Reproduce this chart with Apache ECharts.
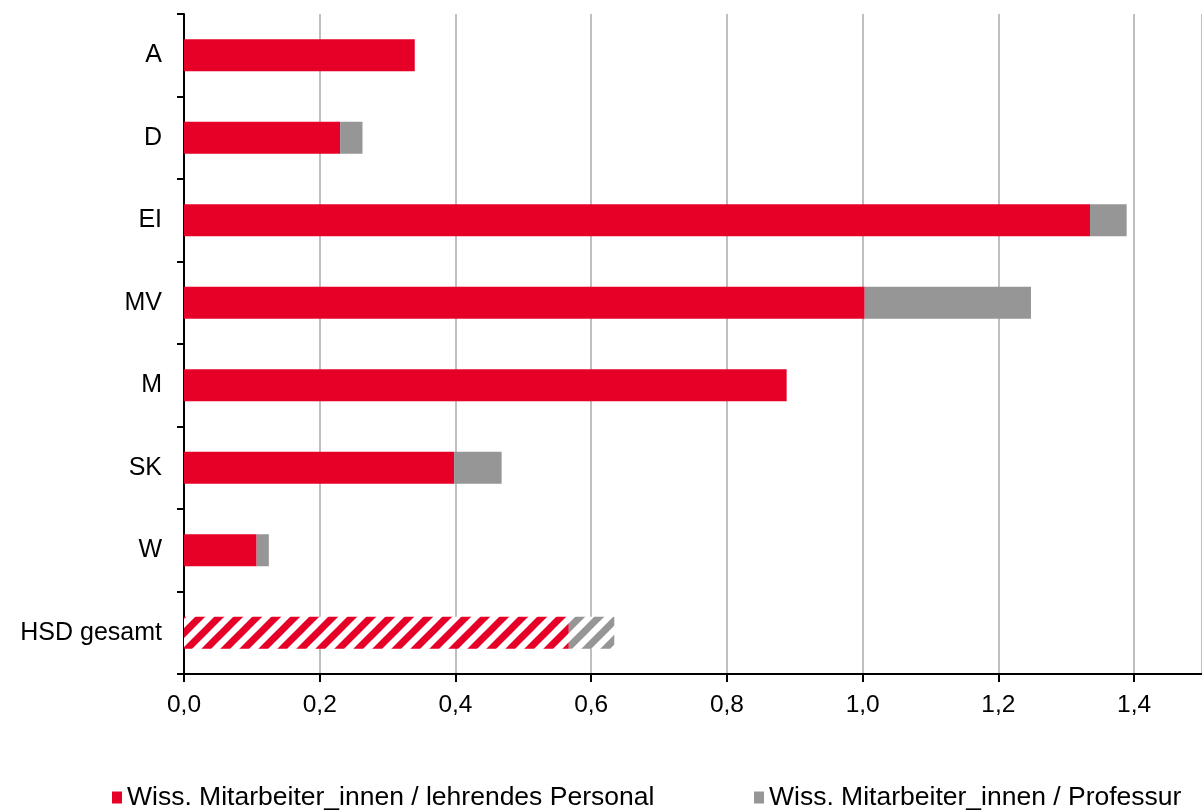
<!DOCTYPE html>
<html>
<head>
<meta charset="utf-8">
<script src="https://cdn.jsdelivr.net/npm/echarts@6/dist/echarts.min.js"></script>
<style>
html,body{margin:0;padding:0;background:#fff;}
#chart{width:1202px;height:810px;}
</style>
</head>
<body>
<div id="chart"></div>
<script>
const categories = ['A', 'D', 'EI', 'MV', 'M', 'SK', 'W', 'HSD gesamt'];
const seriesNames = ['Wiss. Mitarbeiter_innen / lehrendes Personal', 'Wiss. Mitarbeiter_innen / Professur'];
// red segment: ratio per teaching staff
const perTeachingStaff = [0.340, 0.230, 1.335, 1.003, 0.888, 0.398, 0.107, 0.567];
// grey segment: additional amount up to ratio per professorship
const extraPerProfessorship = [0.000, 0.033, 0.054, 0.245, 0.000, 0.070, 0.018, 0.067];
const xTicks = [0, 0.2, 0.4, 0.6, 0.8, 1.0, 1.2, 1.4];
const hatchedCategory = 'HSD gesamt';

const RED = '#e60028';
const GREY = '#969696';

function makeHatch(color) {
  const s = 19;
  const c = document.createElement('canvas');
  c.width = s; c.height = s;
  const ctx = c.getContext('2d');
  ctx.fillStyle = '#ffffff';
  ctx.fillRect(0, 0, s, s);
  ctx.strokeStyle = color;
  ctx.lineWidth = 7;
  for (const o of [-s, 0, s]) {
    ctx.beginPath();
    ctx.moveTo(o - s, 2 * s);
    ctx.lineTo(o + 2 * s, -s);
    ctx.stroke();
  }
  return { image: c, repeat: 'repeat' };
}

function buildData(values, color) {
  const hatch = makeHatch(color);
  return values.map((v, i) => {
    if (categories[i] === hatchedCategory) {
      return { value: v, itemStyle: { color: hatch } };
    }
    return v;
  });
}

const chart = echarts.init(document.getElementById('chart'), null, { renderer: 'canvas' });
const font = 'Liberation Sans, Arial, sans-serif';

const legendText = { fontSize: 26.5, lineHeight: 26, color: '#000', fontFamily: font };

chart.setOption({
  animation: false,
  backgroundColor: '#ffffff',
  textStyle: { fontFamily: font },
  grid: { left: 184, right: -2, top: 14, bottom: 136, containLabel: false },
  legend: [
    {
      data: [seriesNames[0]],
      left: 112, top: 784, padding: 0,
      icon: 'rect', itemWidth: 10, itemHeight: 12,
      textStyle: legendText,
      selectedMode: false
    },
    {
      data: [seriesNames[1]],
      left: 754, top: 784, padding: 0,
      icon: 'rect', itemWidth: 10, itemHeight: 12,
      textStyle: legendText,
      selectedMode: false
    }
  ],
  xAxis: {
    type: 'value',
    min: 0,
    max: 1.5,
    interval: 0.2,
    axisLine: { show: true, lineStyle: { color: '#000', width: 2 } },
    axisTick: { show: true, length: 8, lineStyle: { color: '#000', width: 2 } },
    splitLine: { show: true, lineStyle: { color: '#bfbfbf', width: 2 } },
    axisLabel: {
      fontSize: 24.5, color: '#000', margin: 19, fontFamily: font,
      showMaxLabel: false,
      formatter: function (v) {
        const hit = xTicks.some(t => Math.abs(t - v) < 1e-6);
        return hit ? v.toFixed(1).replace('.', ',') : '';
      }
    }
  },
  yAxis: {
    type: 'category',
    inverse: true,
    data: categories,
    axisLine: { show: true, lineStyle: { color: '#000', width: 2 } },
    axisTick: { show: true, length: 7, alignWithLabel: false, lineStyle: { color: '#000', width: 2 } },
    axisLabel: { fontSize: 25, color: '#000', margin: 22, fontFamily: font },
    splitLine: { show: false }
  },
  series: [
    {
      name: seriesNames[0],
      type: 'bar',
      stack: 'total',
      barWidth: 32,
      itemStyle: { color: RED },
      data: buildData(perTeachingStaff, RED)
    },
    {
      name: seriesNames[1],
      type: 'bar',
      stack: 'total',
      barWidth: 32,
      itemStyle: { color: GREY },
      data: buildData(extraPerProfessorship, GREY)
    }
  ]
});
</script>
</body>
</html>
